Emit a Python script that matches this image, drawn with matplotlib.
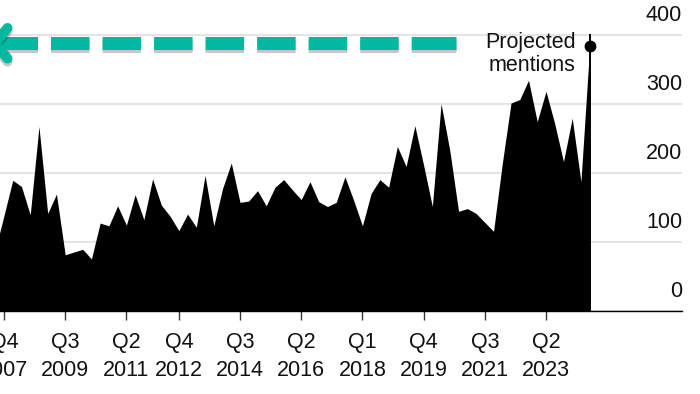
import matplotlib
matplotlib.use("Agg")
import matplotlib.pyplot as plt
import matplotlib.patheffects as pe
from matplotlib.lines import Line2D
from matplotlib.transforms import ScaledTranslation, blended_transform_factory

plt.rcParams['font.family'] = ['Liberation Sans', 'DejaVu Sans']
plt.rcParams['lines.scale_dashes'] = False

# ---- data -------------------------------------------------------------
quarters = (['Q3 2007', 'Q4 2007'] +
            [f'Q{q} {y}' for y in range(2008, 2024) for q in (1, 2, 3, 4)] +
            ['Q1 2024', 'Q2 2024', 'Q3 2024'])

mentions = [
    88, 138,                 # 2007 Q3-Q4
    189, 180, 139, 267,      # 2008
    141, 169, 81, 85,        # 2009
    89, 75, 127, 123,        # 2010
    152, 124, 168, 132,      # 2011
    191, 153, 137, 116,      # 2012
    140, 121, 196, 123,      # 2013
    177, 214, 157, 159,      # 2014
    174, 152, 179, 190,      # 2015
    175, 161, 187, 158,      # 2016
    151, 157, 194, 160,      # 2017
    123, 170, 190, 179,      # 2018
    238, 209, 268, 211,      # 2019
    151, 300, 232, 144,      # 2020
    148, 141, 128, 115,      # 2021
    213, 301, 306, 334,      # 2022
    274, 318, 271, 216,      # 2023
    279, 187, 383,           # 2024 Q1-Q3 (Q3 projected)
]

tick_quarters = ['Q4 2007', 'Q3 2009', 'Q2 2011', 'Q4 2012', 'Q3 2014',
                 'Q2 2016', 'Q1 2018', 'Q4 2019', 'Q3 2021', 'Q2 2023']
y_ticks = [0, 100, 200, 300, 400]
annotation_text = 'Projected\nmentions'

# ---- styling ---------------------------------------------------------
TEAL = '#00B9A0'
FS = 15.5

fig = plt.figure(figsize=(7.0, 3.94), dpi=100)
ax = fig.add_axes([0.0, 0.2114, 682 / 700, 0.7886])

x = list(range(len(quarters)))
ax.fill_between(x, mentions, 0, color='black', lw=0, zorder=2)

x_last = x[-1]
y_last = mentions[-1]
ax.plot([x_last, x_last], [0, 401], color='black', lw=1.4, zorder=3,
        solid_capstyle='butt')
ax.plot([x_last], [y_last], 'o', color='black', ms=7.5, zorder=4)

ax.annotate(annotation_text, xy=(x_last, y_last), xytext=(-10.1, -18.0),
            textcoords='offset points', ha='right', va='baseline',
            fontsize=FS, color='#111111', linespacing=1.15,
            multialignment='right', zorder=5)

# axes limits in quarter index units
ax.set_xlim(0.5424, 78.56)
ax.set_ylim(0, 450.3)

# grid
ax.set_yticks(y_ticks)
ax.grid(axis='y', color='#dcdcdc', lw=1.1, zorder=0)
ax.grid(axis='x', visible=False)
ax.tick_params(axis='y', length=0, labelleft=False, labelright=False)

# y labels: right-aligned above gridlines
trans = blended_transform_factory(ax.transAxes, ax.transData)
for v in y_ticks:
    ax.text(1.0, v, f'{v}', ha='right', va='baseline', fontsize=FS,
            color='#111111',
            transform=trans + ScaledTranslation(0, 9.6 / 72, fig.dpi_scale_trans))

# x ticks
tick_pos = [quarters.index(q) for q in tick_quarters]
tick_lbl = [q.replace(' ', '\n') for q in tick_quarters]
ax.set_xticks(tick_pos)
ax.set_xticklabels(tick_lbl, fontsize=FS, color='#111111')
for lbl in ax.get_xticklabels():
    lbl.set_linespacing(1.45)
ax.tick_params(axis='x', length=6.5, width=1.0, color='#333333', pad=8.5)

for s in ('top', 'left', 'right'):
    ax.spines[s].set_visible(False)
ax.spines['bottom'].set_color('black')
ax.spines['bottom'].set_linewidth(1.0)
ax.spines['bottom'].set_zorder(3)

# teal dashed arrow pointing left (decoration, axes-fraction coords)
AX_W, AX_H, BASE = 682.0, 310.7, 310.7
def fx(px):
    return px / AX_W
def fy(py):
    return (BASE - py) / AX_H

y_arrow = 43.3
dash_seq = [27.7, 9.4] * 8 + [32.8, 9.4]
shadow = [pe.SimpleLineShadow(offset=(0, -2.2), shadow_color='black', alpha=0.22),
          pe.Normal()]
arrow = Line2D([fx(-2.3), fx(456)], [fy(y_arrow), fy(y_arrow)],
               transform=ax.transAxes, color=TEAL, lw=9.4,
               solid_capstyle='butt', dash_capstyle='butt', clip_on=False,
               zorder=6, path_effects=shadow)
arrow.set_dashes(dash_seq)
ax.add_line(arrow)

head = Line2D([fx(7.5), fx(-5), fx(7.5)], [fy(28.0), fy(y_arrow), fy(58.5)],
              transform=ax.transAxes, color=TEAL, lw=7.2,
              solid_capstyle='round', solid_joinstyle='miter', clip_on=False,
              zorder=6, path_effects=shadow)
ax.add_line(head)

fig.savefig('out.png', dpi=100)
